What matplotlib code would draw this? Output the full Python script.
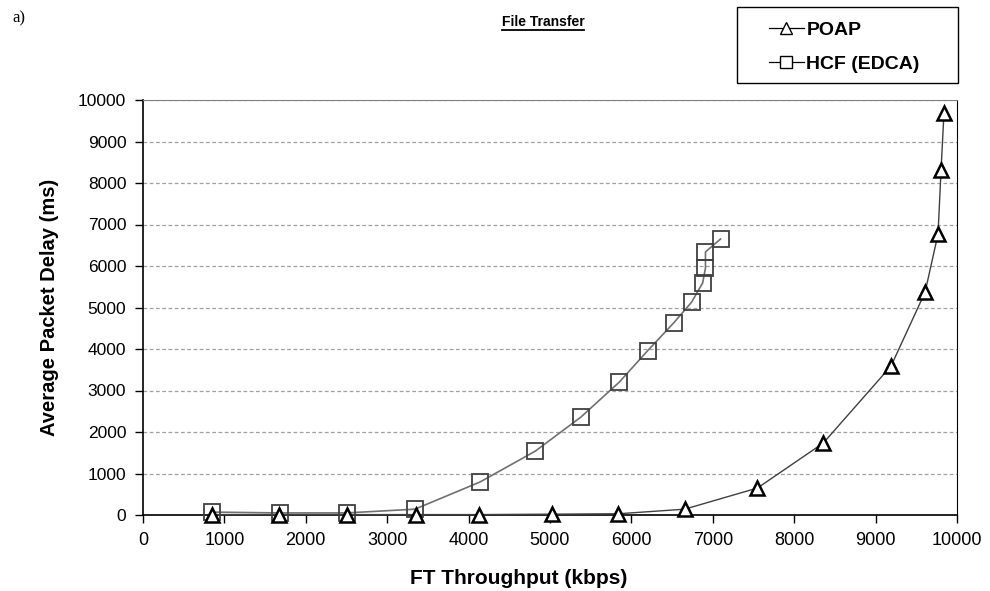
import numpy as np
import matplotlib
matplotlib.use('Agg')
import matplotlib.pyplot as plt
from matplotlib.patches import Rectangle
from matplotlib.lines import Line2D

plt.rcParams['font.family'] = ['Liberation Sans', 'DejaVu Sans']

# values
poap_x = [847, 1667, 2500, 3358, 4130, 5020, 5840, 6654, 7549, 8358, 9190, 9608, 9767, 9804, 9840]
poap_y = [10, 10, 10, 10, 10, 20, 30, 140, 650, 1735, 3590, 5370, 6770, 8310, 9690]
hcf_x = [847, 1680, 2500, 3340, 4140, 4820, 5380, 5850, 6200, 6520, 6740, 6875, 6910, 6910, 7095]
hcf_y = [70, 50, 50, 140, 795, 1540, 2360, 3200, 3960, 4630, 5130, 5590, 5950, 6340, 6650]
series_names = ['POAP', 'HCF (EDCA)']
x_ticks = np.arange(0, 10001, 1000)
y_ticks = np.arange(0, 10001, 1000)

fig = plt.figure(figsize=(9.9, 5.91), dpi=100)
ax = fig.add_axes([143/990, 1 - 515/591, (957 - 143)/990, (515 - 100)/591])

ax.plot(poap_x, poap_y, color='#404040', lw=1.0, marker='^', ms=10,
        mfc='white', mec='black', mew=1.8, zorder=4, clip_on=False)
ax.plot(hcf_x, hcf_y, color='#707070', lw=1.2, marker='s', ms=11,
        mfc='none', mec='#404040', mew=1.3, zorder=3, clip_on=False)

ax.set_xlim(0, 10000)
ax.set_ylim(0, 10000)
ax.set_xticks(x_ticks)
ax.set_yticks(y_ticks)
ax.tick_params(direction='out', length=6, width=1, color='black', pad=6)
ax.tick_params(axis='x', labelsize=13)
ax.tick_params(axis='y', labelsize=12.5)
for t in ax.get_xticklabels():
    t.set_family(['Liberation Sans Narrow', 'Liberation Sans'])
ax.yaxis.grid(True, ls=(0, (3, 2)), color='#a0a0a0', lw=0.9)
ax.set_axisbelow(True)
ax.spines['top'].set_color('#808080')
ax.spines['right'].set_color('black')
ax.spines['left'].set_linewidth(1.2)
ax.spines['bottom'].set_linewidth(1.2)

ax.set_xlabel('FT Throughput (kbps)', fontsize=15, fontweight='bold', labelpad=15,
              family=['Liberation Sans Narrow', 'Liberation Sans'])
ax.xaxis.set_label_coords((519 - 143) / 814, -0.13)
ax.set_ylabel('Average Packet Delay (ms)', fontsize=14.5, fontweight='bold', labelpad=14)

# title with underline
title = fig.text(543/990, 1 - 22/591, 'File Transfer', ha='center', va='center',
                 fontsize=10, fontweight='bold')
fig.canvas.draw()
bb = title.get_window_extent().transformed(fig.transFigure.inverted())
fig.add_artist(Line2D([bb.x0, bb.x1], [bb.y0 - 0.002, bb.y0 - 0.002],
                      transform=fig.transFigure, color='black', lw=1.3))

fig.text(12/990, 1 - 18/591, 'a)', ha='left', va='center', fontsize=12,
         family=['Liberation Serif', 'DejaVu Serif'])

# legend box
fig.add_artist(Rectangle((737/990, 1 - 83/591), (958 - 737)/990, 76/591,
                         transform=fig.transFigure, fill=False, ec='black', lw=1.0))
handles = [
    Line2D([], [], color='black', lw=0.9, marker='^', ms=8, mfc='white', mec='black', mew=1.0),
    Line2D([], [], color='black', lw=0.9, marker='s', ms=9, mfc='white', mec='black', mew=1.0),
]
leg = fig.legend(handles, series_names, loc='upper left', bbox_to_anchor=(751/990, 1 - 4/591),
                 frameon=False, handlelength=1.8, handletextpad=0.15, labelspacing=0.85,
                 prop={'weight': 'bold', 'size': 14})

fig.savefig('out.png', dpi=100)
